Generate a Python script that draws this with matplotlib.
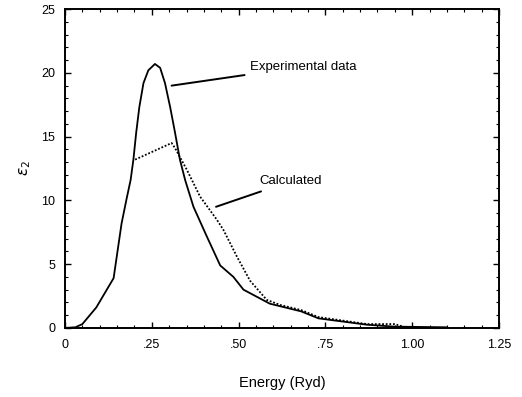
import numpy as np
import matplotlib
matplotlib.use('Agg')
import matplotlib.pyplot as plt
from matplotlib.ticker import MultipleLocator, FixedLocator

plt.rcParams['font.family'] = ['Liberation Sans', 'DejaVu Sans']

exp_x = [0, 0.03, 0.05, 0.09, 0.14, 0.163, 0.178, 0.189, 0.197, 0.205,
         0.214, 0.226, 0.240, 0.259, 0.274, 0.288, 0.303, 0.317, 0.331,
         0.346, 0.37, 0.408, 0.447, 0.485, 0.514, 0.59, 0.68, 0.73,
         0.87, 0.95, 1.1]
exp_y = [0, 0.05, 0.3, 1.6, 3.9, 8.2, 10.2, 11.6, 13.2, 15.3,
         17.3, 19.2, 20.2, 20.7, 20.4, 19.2, 17.3, 15.3, 13.2,
         11.6, 9.5, 7.2, 4.9, 4.0, 3.0, 1.9, 1.3, 0.75,
         0.25, 0.1, 0.05]

# calculated curve
calc_x = [0.202, 0.307, 0.317, 0.351, 0.389, 0.437, 0.456, 0.495, 0.533,
          0.581, 0.62, 0.68, 0.73, 0.87, 0.95, 0.98]
calc_y = [13.2, 14.5, 14.1, 12.4, 10.3, 8.5, 7.7, 5.6, 3.7,
          2.2, 1.8, 1.4, 0.85, 0.3, 0.3, 0.05]

xticks = [0, 0.25, 0.5, 0.75, 1.0, 1.25]
xticklabels = ['0', '.25', '.50', '.75', '1.00', '1.25']
yticks = [0, 5, 10, 15, 20, 25]

fig = plt.figure(figsize=(5.22, 3.97), dpi=100)
ax = fig.add_axes([0.1245, 0.174, 0.8315, 0.803])

ax.plot(exp_x, exp_y, color='black', lw=1.3)
ax.plot(calc_x, calc_y, color='black', lw=1.3, linestyle=(0, (1, 1)))

ax.set_xlim(0, 1.25)
ax.set_ylim(0, 25)
ax.xaxis.set_major_locator(FixedLocator(xticks))
ax.set_xticklabels(xticklabels)
ax.set_yticks(yticks)
ax.xaxis.set_minor_locator(MultipleLocator(0.05))
ax.yaxis.set_minor_locator(MultipleLocator(1))
ax.tick_params(which='both', direction='in', top=True, right=True,
               labelsize=9)
ax.tick_params(which='major', length=4, width=1)
ax.tick_params(which='minor', length=2, width=0.8)
ax.tick_params(axis='x', pad=8)
ax.tick_params(axis='y', pad=7)
for sp in ax.spines.values():
    sp.set_linewidth(1.4)

ax.set_xlabel('Energy (Ryd)', fontsize=10.5, labelpad=18)
ax.set_ylabel(r'$\varepsilon_2$', fontsize=11, labelpad=6)

ax.annotate('Experimental data', xy=(0.307, 19.0), xytext=(0.533, 20.5),
            fontsize=9.5, va='center', ha='left',
            arrowprops=dict(arrowstyle='-', color='black', lw=1.4,
                            shrinkA=2, shrinkB=0))
ax.annotate('Calculated', xy=(0.435, 9.5), xytext=(0.56, 11.5),
            fontsize=9.5, va='center', ha='left',
            arrowprops=dict(arrowstyle='-', color='black', lw=1.4,
                            shrinkA=3, shrinkB=0))

fig.savefig('out.png', dpi=100)
